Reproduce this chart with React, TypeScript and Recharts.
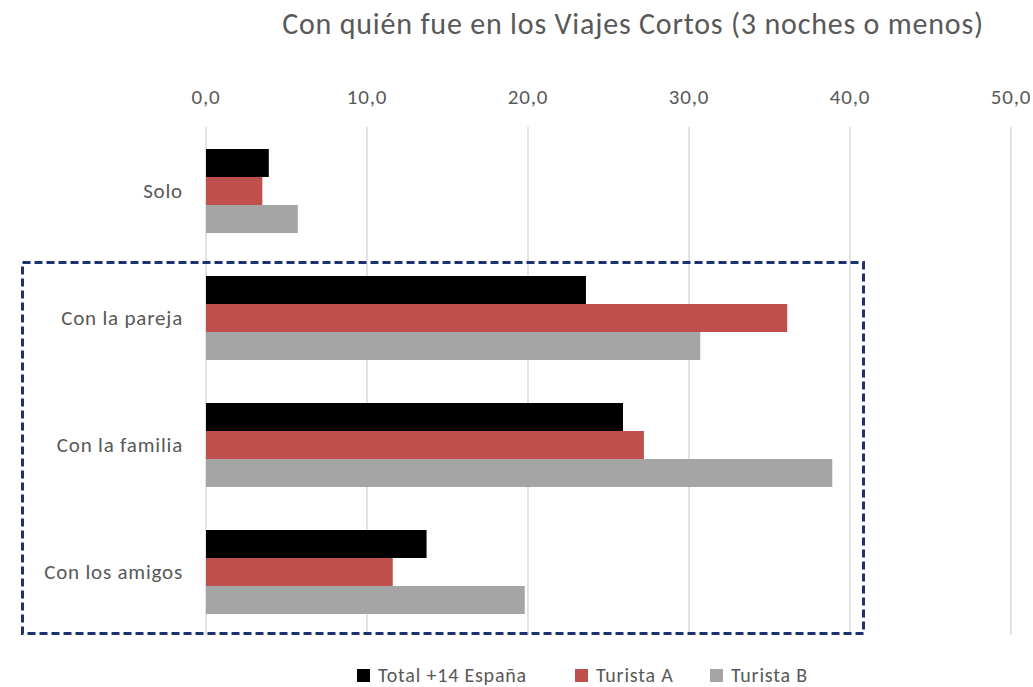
import React from 'react';
import { BarChart, Bar, XAxis, YAxis, CartesianGrid, Legend } from 'recharts';

document.body.style.margin = '0';

const categories = ['Solo', 'Con la pareja', 'Con la familia', 'Con los amigos'];
const totalEspana = [3.9, 23.6, 25.9, 13.7];
const turistaA = [3.5, 36.1, 27.2, 11.6];
const turistaB = [5.7, 30.7, 38.9, 19.8];
const xTicks = [0, 10, 20, 30, 40, 50];

const seriesNames = ['Total +14 España', 'Turista A', 'Turista B'];
const seriesColors = ['#000000', '#c0504d', '#a5a5a5'];

const data = categories.map((name, i) => ({
  name,
  total: totalEspana[i],
  a: turistaA[i],
  b: turistaB[i],
}));

const FONT = 'Calibri, Carlito, Lato, sans-serif';
const TEXT = '#595959';

// legend drawn by hand so the squares sit where Excel put them
function LegendRow() {
  const widths = [218, 135, 120];
  return (
    <div style={{ display: 'flex', paddingLeft: 357, fontFamily: FONT, fontSize: 20, color: TEXT }}>
      {seriesNames.map((n, i) => (
        <div key={n} style={{ width: widths[i], display: 'flex', alignItems: 'center' }}>
          <span style={{ width: 13, height: 13, background: seriesColors[i], marginRight: 8 }} />
          <span style={{ letterSpacing: 0.8 }}>{n}</span>
        </div>
      ))}
    </div>
  );
}

export default function App() {
  return (
    <div style={{ position: 'relative', width: 1033, height: 687, background: '#fff' }}>
      <div
        style={{
          position: 'absolute',
          top: 5,
          left: 0,
          width: 1266,
          textAlign: 'center',
          fontFamily: FONT,
          fontSize: 30,
          letterSpacing: 0.8,
          color: TEXT,
        }}
      >
        Con quién fue en los Viajes Cortos (3 noches o menos)
      </div>
      <BarChart
        width={1033}
        height={687}
        data={data}
        layout="vertical"
        margin={{ top: 97, right: 22, bottom: 52, left: 0 }}
        barGap={0}
      >
        <CartesianGrid horizontal={false} stroke="#d9d9d9" strokeWidth={1.5} />
        <XAxis
          type="number"
          orientation="top"
          height={30}
          domain={[0, 50]}
          ticks={xTicks}
          axisLine={false}
          tickLine={false}
          tickSize={0}
          tickMargin={23}
          interval={0}
          tickFormatter={(v: number) => v.toFixed(1).replace('.', ',')}
          tick={{ fill: TEXT, fontSize: 21, fontFamily: FONT, letterSpacing: 0.8 }}
        />
        <YAxis
          type="category"
          dataKey="name"
          width={206}
          axisLine={false}
          tickLine={false}
          tickSize={0}
          tickMargin={23}
          tick={{ fill: TEXT, fontSize: 21, fontFamily: FONT, letterSpacing: 0.8 }}
        />
        <Bar dataKey="total" name={seriesNames[0]} fill={seriesColors[0]} barSize={28} isAnimationActive={false} />
        <Bar dataKey="a" name={seriesNames[1]} fill={seriesColors[1]} barSize={28} isAnimationActive={false} />
        <Bar dataKey="b" name={seriesNames[2]} fill={seriesColors[2]} barSize={28} isAnimationActive={false} />
        <Legend
          layout="horizontal"
          verticalAlign="middle"
          align="center"
          content={() => <LegendRow />}
          wrapperStyle={{ top: 663, left: 0, width: 1033 }}
        />
      </BarChart>
      <svg
        width={1033}
        height={687}
        style={{ position: 'absolute', top: 0, left: 0, pointerEvents: 'none' }}
      >
        <rect x={22.5} y={262.5} width={841} height={371} fill="none" stroke="#1c3370" strokeWidth={3} strokeDasharray="8 4" />
      </svg>
    </div>
  );
}
